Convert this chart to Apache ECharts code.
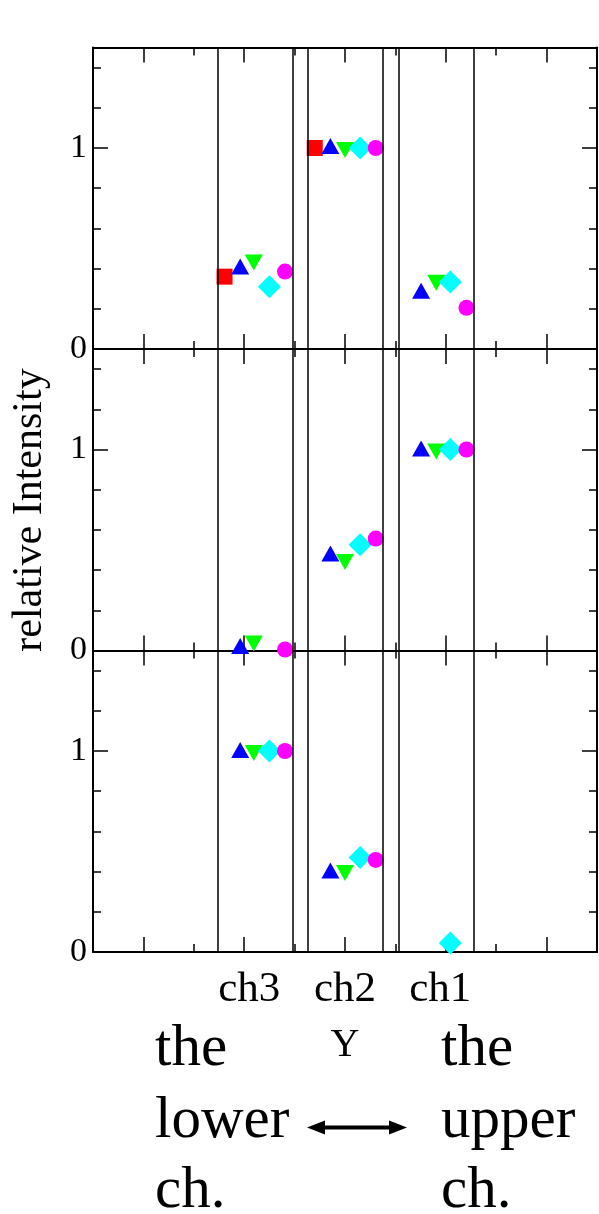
<!DOCTYPE html>
<html>
<head>
<meta charset="utf-8">
<script src="https://cdn.jsdelivr.net/npm/echarts@6/dist/echarts.min.js"></script>
<style>
  html, body { margin: 0; padding: 0; background: #fff; }
  #chart { width: 599px; height: 1214px; }
</style>
</head>
<body>
<div id="chart"></div>
<script>
// channels, left to right
const channels = ['ch3', 'ch2', 'ch1'];
const channelCenters = [3.1, 5.0, 6.89];

// x position of each marker shape inside each channel
const xSquare = [2.61, 4.40, 6.21];
const xUp = [2.92, 4.71, 6.51];
const xDown = [3.19, 5.00, 6.81];
const xDiamond = [3.50, 5.30, 7.09];
const xCircle = [3.81, 5.61, 7.41];

// channel borders (vertical lines)
const bandEdges = [2.474, 3.958, 4.27, 5.75, 6.07, 7.56];

// relative intensity per panel: rows = square, up, down, diamond, circle; cols = ch3, ch2, ch1
const panelTop = [
  [0.36, 1.0, null],
  [0.41, 1.01, 0.29],
  [0.43, 0.99, 0.33],
  [0.31, 1.0, 0.333],
  [0.385, 1.0, 0.205],
];
const panelMiddle = [
  [null, null, null],
  [0.022, 0.483, 1.005],
  [0.035, 0.44, 0.99],
  [null, 0.526, 1.0],
  [0.005, 0.557, 1.0],
];
const panelBottom = [
  [null, null, null],
  [1.005, 0.405, null],
  [0.99, 0.393, null],
  [1.0, 0.47, 0.045],
  [1.0, 0.458, null],
];

const yTickLabels = [0, 1];

const panels = [panelTop, panelMiddle, panelBottom];
const shapeX = [xSquare, xUp, xDown, xDiamond, xCircle];
const shapes = [
  { symbol: 'rect', size: 16, rotate: 0, color: '#ff0000' },
  { symbol: 'triangle', size: [18, 16], rotate: 0, color: '#0000ff' },
  { symbol: 'triangle', size: [18, 16], rotate: 180, color: '#00ff00' },
  { symbol: 'diamond', size: [23, 23], rotate: 0, color: '#00ffff' },
  { symbol: 'circle', size: 16, rotate: 0, color: '#ff00ff' },
];

const serif = '"Liberation Serif", "DejaVu Serif", serif';
const gridTops = [47.5, 349, 650.5];

const chart = echarts.init(document.getElementById('chart'));

const grid = [];
const xAxis = [];
const yAxis = [];
const series = [];

gridTops.forEach((top, p) => {
  grid.push({ left: 93, width: 504, top: top, height: 301.5 });
  ['bottom', 'top'].forEach((pos) => {
    xAxis.push({
      type: 'value',
      gridIndex: p,
      position: pos,
      min: 0,
      max: 10,
      interval: 2,
      axisLine: { show: true, onZero: false, lineStyle: { color: '#000', width: 2 } },
      axisTick: { show: true, inside: true, length: 8, lineStyle: { color: '#000', width: 1.5 } },
      minorTick: { show: true, splitNumber: 2, length: 15, lineStyle: { color: '#000', width: 1.5 } },
      axisLabel: { show: false },
      splitLine: { show: false },
    });
  });
  ['left', 'right'].forEach((pos) => {
    yAxis.push({
      type: 'value',
      gridIndex: p,
      position: pos,
      min: 0,
      max: 1.5,
      interval: 1,
      axisLine: { show: true, onZero: false, lineStyle: { color: '#000', width: 2 } },
      axisTick: { show: true, inside: true, length: 15, lineStyle: { color: '#000', width: 1.5 } },
      minorTick: { show: true, splitNumber: 5, length: 8, lineStyle: { color: '#000', width: 1.5 } },
      axisLabel: {
        show: pos === 'left',
        color: '#000',
        fontFamily: serif,
        fontSize: 34,
        margin: 6,
        formatter: (v) => (yTickLabels.includes(v) ? String(v) : ''),
      },
      splitLine: { show: false },
    });
  });

  panels[p].forEach((vals, s) => {
    const data = [];
    vals.forEach((v, c) => {
      if (v !== null) data.push([shapeX[s][c], v]);
    });
    const sh = shapes[s];
    const item = {
      type: 'scatter',
      xAxisIndex: p * 2,
      yAxisIndex: p * 2,
      data: data,
      symbol: sh.symbol,
      symbolSize: sh.size,
      symbolRotate: sh.rotate,
      itemStyle: { color: sh.color, opacity: 1 },
      z: 3,
    };
    if (s === 0) {
      item.markLine = {
        silent: true,
        symbol: ['none', 'none'],
        label: { show: false },
        lineStyle: { color: '#000', width: 1.5, type: 'solid' },
        data: bandEdges.map((v) => ({ xAxis: v })),
      };
    }
    series.push(item);
  });
});

chart.setOption({
  animation: false,
  backgroundColor: '#fff',
  grid: grid,
  xAxis: xAxis,
  yAxis: yAxis,
  series: series,
});

// labels placed through the bottom panel's x scale
const chLabels = channels.map((name, i) => ({
  type: 'text',
  x: chart.convertToPixel({ xAxisIndex: 4 }, channelCenters[i]),
  y: 990,
  style: { text: name, font: '43px ' + serif, fill: '#000', align: 'center', verticalAlign: 'middle' },
}));

const big = '59px ' + serif;
const arrowY = 1127.5;

chart.setOption({
  graphic: chLabels.concat([
    {
      type: 'text', x: chart.convertToPixel({ xAxisIndex: 4 }, 5.0), y: 1045,
      style: { text: 'Y', font: '40px ' + serif, fill: '#000', align: 'center', verticalAlign: 'middle' },
    },
    { type: 'text', x: 155, y: 1049, style: { text: 'the', font: big, fill: '#000', verticalAlign: 'middle' } },
    { type: 'text', x: 155, y: 1121, style: { text: 'lower', font: big, fill: '#000', verticalAlign: 'middle' } },
    { type: 'text', x: 155, y: 1191, style: { text: 'ch.', font: big, fill: '#000', verticalAlign: 'middle' } },
    { type: 'text', x: 441, y: 1049, style: { text: 'the', font: big, fill: '#000', verticalAlign: 'middle' } },
    { type: 'text', x: 441, y: 1121, style: { text: 'upper', font: big, fill: '#000', verticalAlign: 'middle' } },
    { type: 'text', x: 441, y: 1191, style: { text: 'ch.', font: big, fill: '#000', verticalAlign: 'middle' } },
    {
      type: 'text', x: 30, y: 510, rotation: Math.PI / 2,
      style: { text: 'relative Intensity', font: '42px ' + serif, fill: '#000', align: 'center', verticalAlign: 'middle' },
    },
    // double-headed arrow
    { type: 'rect', shape: { x: 320, y: arrowY - 2, width: 74, height: 4 }, style: { fill: '#000' } },
    {
      type: 'polygon',
      shape: { points: [[307, arrowY], [325, arrowY - 7], [325, arrowY + 7]] },
      style: { fill: '#000' },
    },
    {
      type: 'polygon',
      shape: { points: [[407, arrowY], [389, arrowY - 7], [389, arrowY + 7]] },
      style: { fill: '#000' },
    },
  ]),
});
</script>
</body>
</html>
